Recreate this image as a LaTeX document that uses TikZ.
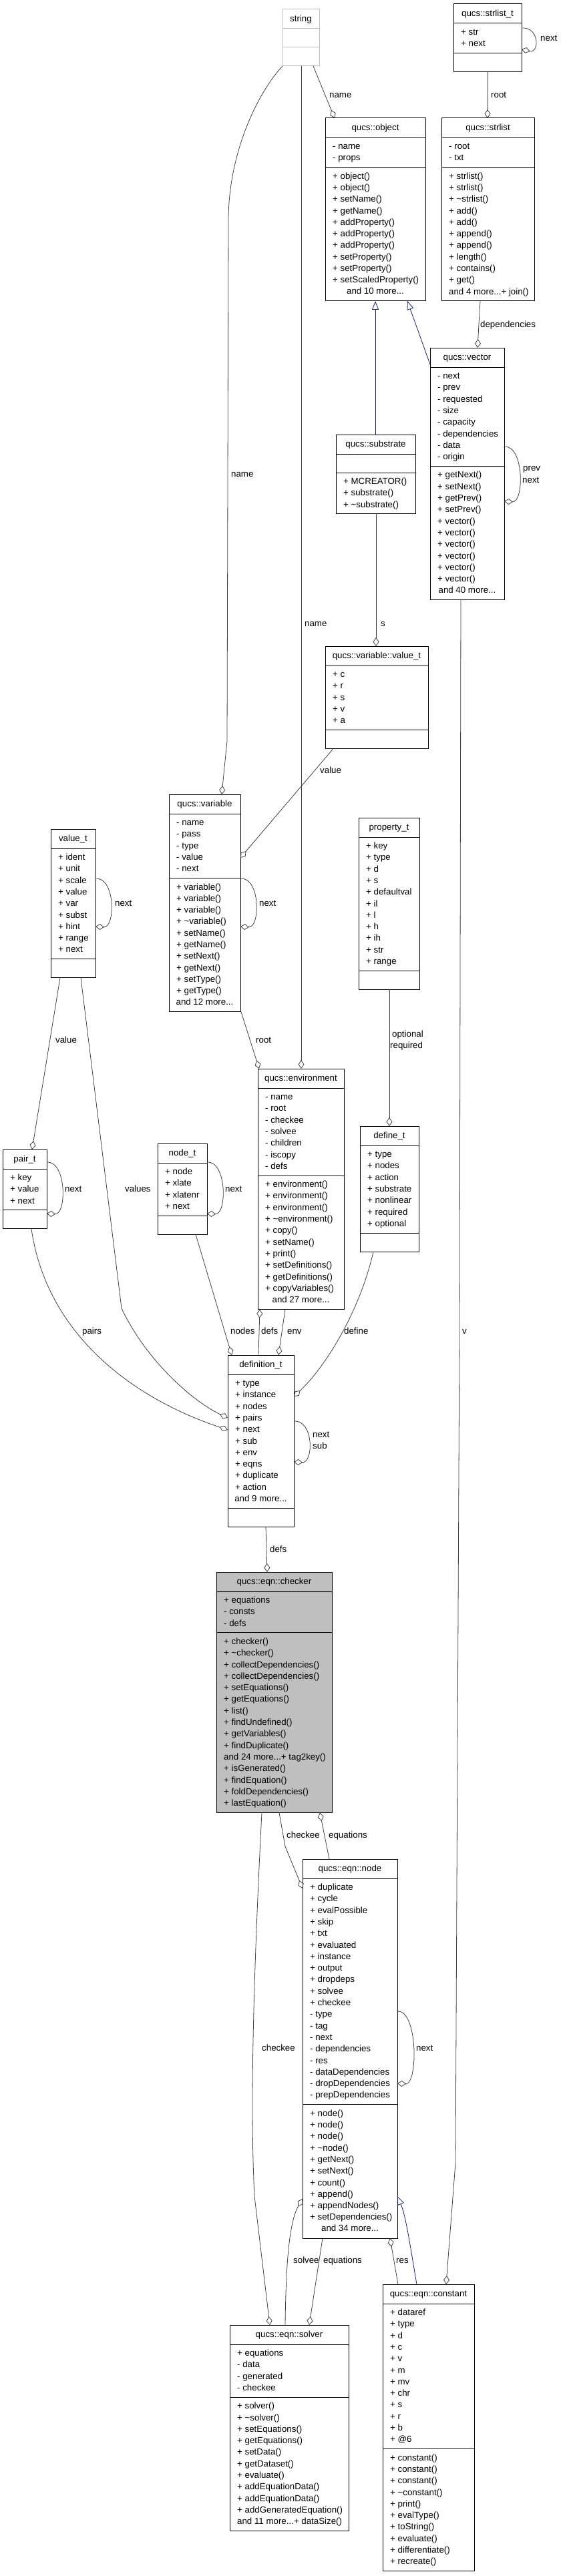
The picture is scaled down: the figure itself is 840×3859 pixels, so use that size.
\documentclass[tikz,border=0pt]{standalone}
\usepackage{fontspec}
\setmainfont{Liberation Sans}
\usetikzlibrary{arrows.meta}
\definecolor{edgec}{HTML}{404040}
\definecolor{inhc}{HTML}{191970}
\definecolor{fillc}{HTML}{BFBFBF}
\definecolor{strc}{HTML}{BFBFBF}
\newcommand\fsz{\fontsize{13.3}{17.3}\selectfont}
\newcommand\fr{\rule{0pt}{11pt}}
\newcommand\tld{\textasciitilde}
\tikzset{
 cbox/.style={draw=black, line width=1pt, inner sep=0pt, outer sep=0pt, fill=white},
 csep/.style={draw=black, line width=1pt},
 ctitle/.style={inner sep=0pt, anchor=base, font=\fsz},
 ctxt/.style={inner sep=0pt, anchor=north west, align=left, font=\fsz},
 cmore/.style={inner sep=0pt, anchor=base, font=\fsz},
 lbl/.style={inner sep=0pt, anchor=base west, font=\fsz},
 agg/.style={draw=edgec, line width=0.8pt, -{Diamond[open,length=13pt,width=9pt]}},
 inh/.style={draw=inhc, line width=0.8pt, -{Triangle[open,length=13pt,width=10pt]}},
}
\newcommand\ucls[8][]{%
  \pgfmathsetmacro\uyh{#5+29}%
  \ifnum#7=0 \def\uha{28}\else\pgfmathsetmacro\uha{17.3*#7+10}\fi
  \ifnum#8=0 \def\uhm{28}\else\pgfmathsetmacro\uhm{17.3*#8+10}\fi
  \pgfmathsetmacro\uya{\uyh+\uha}%
  \pgfmathsetmacro\uyb{\uya+\uhm}%
  \node[cbox,#1,anchor=north west,minimum width={#4-#3},minimum height={\uyb-#5}] (#2) at (#3,#5) {};
  \draw[csep,#1,fill=none] (#3,\uyh) -- (#4,\uyh) (#3,\uya) -- (#4,\uya);
  \node[ctitle] (#2-t) at ({(#3+#4)/2},{#5+18.5}) {#6};
  \coordinate (#2-a) at ({#3+11},{\uyh+6.3});
  \coordinate (#2-m) at ({#3+11},{\uya+6.3});
  \coordinate (#2-b) at ({(#3+#4)/2},{\uyb-10.3});
  \coordinate (#2-c) at ({(#3+#4)/2},{\uya-10.3});
}
\begin{document}
\begin{tikzpicture}[x=1pt,y=-1pt]
\fill[white] (0,0) rectangle (840,3859);
\useasboundingbox (0,0) rectangle (840,3859);

% ---------- classes ----------
\ucls[draw=strc]{string}{423}{478}{14}{string}{0}{0}

\ucls{strlistt}{679}{781}{6}{qucs::strlist\_t}{2}{0}
\node[ctxt] (strlistt-at) at (strlistt-a) {\fr+ str\\+ next};

\ucls{object}{487}{637}{177}{qucs::object}{2}{11}
\node[ctxt] (object-at) at (object-a) {\fr- name\\- props};
\node[ctxt] (object-mt) at (object-m) {\fr+ object()\\+ object()\\+ setName()\\+ getName()\\+ addProperty()\\+ addProperty()\\+ addProperty()\\+ setProperty()\\+ setProperty()\\+ setScaledProperty()};
\node[cmore] (object-mo) at (object-b) {and 10 more...};

\ucls{strlist}{661}{800}{177}{qucs::strlist}{2}{11}
\node[ctxt] (strlist-at) at (strlist-a) {\fr- root\\- txt};
\node[ctxt] (strlist-mt) at (strlist-m) {\fr+ strlist()\\+ strlist()\\+ \tld strlist()\\+ add()\\+ add()\\+ append()\\+ append()\\+ length()\\+ contains()\\+ get()\\and 4 more...+ join()};

\ucls{vector}{644}{755}{521}{qucs::vector}{8}{11}
\node[ctxt] (vector-at) at (vector-a) {\fr- next\\- prev\\- requested\\- size\\- capacity\\- dependencies\\- data\\- origin};
\node[ctxt] (vector-mt) at (vector-m) {\fr+ getNext()\\+ setNext()\\+ getPrev()\\+ setPrev()\\+ vector()\\+ vector()\\+ vector()\\+ vector()\\+ vector()\\+ vector()};
\node[cmore] (vector-mo) at (vector-b) {and 40 more...};

\ucls{substrate}{503}{622}{651}{qucs::substrate}{0}{3}
\node[ctxt] (substrate-mt) at (substrate-m) {\fr+ MCREATOR()\\+ substrate()\\+ \tld substrate()};

\ucls{vvalue}{487}{641}{968}{qucs::variable::value\_t}{5}{0}
\node[ctxt] (vvalue-at) at (vvalue-a) {\fr+ c\\+ r\\+ s\\+ v\\+ a};

\ucls{valuet}{76}{143}{1242}{value\_t}{9}{0}
\node[ctxt] (valuet-at) at (valuet-a) {\fr+ ident\\+ unit\\+ scale\\+ value\\+ var\\+ subst\\+ hint\\+ range\\+ next};

\ucls{variable}{253}{360}{1190}{qucs::variable}{5}{11}
\node[ctxt] (variable-at) at (variable-a) {\fr- name\\- pass\\- type\\- value\\- next};
\node[ctxt] (variable-mt) at (variable-m) {\fr+ variable()\\+ variable()\\+ variable()\\+ \tld variable()\\+ setName()\\+ getName()\\+ setNext()\\+ getNext()\\+ setType()\\+ getType()};
\node[cmore] (variable-mo) at (variable-b) {and 12 more...};

\ucls{property}{537}{628}{1225}{property\_t}{11}{0}
\node[ctxt] (property-at) at (property-a) {\fr+ key\\+ type\\+ d\\+ s\\+ defaultval\\+ il\\+ l\\+ h\\+ ih\\+ str\\+ range};

\ucls{environment}{386}{515}{1601}{qucs::environment}{7}{11}
\node[ctxt] (environment-at) at (environment-a) {\fr- name\\- root\\- checkee\\- solvee\\- children\\- iscopy\\- defs};
\node[ctxt] (environment-mt) at (environment-m) {\fr+ environment()\\+ environment()\\+ environment()\\+ \tld environment()\\+ copy()\\+ setName()\\+ print()\\+ setDefinitions()\\+ getDefinitions()\\+ copyVariables()};
\node[cmore] (environment-mo) at (environment-b) {and 27 more...};

\ucls{pair}{4}{70}{1722}{pair\_t}{3}{0}
\node[ctxt] (pair-at) at (pair-a) {\fr+ key\\+ value\\+ next};

\ucls{nodet}{236}{310}{1713}{node\_t}{4}{0}
\node[ctxt] (nodet-at) at (nodet-a) {\fr+ node\\+ xlate\\+ xlatenr\\+ next};

\ucls{define}{539}{627}{1687}{define\_t}{7}{0}
\node[ctxt] (define-at) at (define-a) {\fr+ type\\+ nodes\\+ action\\+ substrate\\+ nonlinear\\+ required\\+ optional};

\ucls{definition}{341}{440}{2030}{definition\_t}{11}{0}
\node[ctxt] (definition-at) at (definition-a) {\fr+ type\\+ instance\\+ nodes\\+ pairs\\+ next\\+ sub\\+ env\\+ eqns\\+ duplicate\\+ action};
\node[cmore] (definition-ao) at (definition-c) {and 9 more...};

\ucls[fill=fillc]{checker}{324}{497}{2355}{qucs::eqn::checker}{3}{15}
\node[ctxt] (checker-at) at (checker-a) {\fr+ equations\\- consts\\- defs};
\node[ctxt] (checker-mt) at (checker-m) {\fr+ checker()\\+ \tld checker()\\+ collectDependencies()\\+ collectDependencies()\\+ setEquations()\\+ getEquations()\\+ list()\\+ findUndefined()\\+ getVariables()\\+ findDuplicate()\\and 24 more...+ tag2key()\\+ isGenerated()\\+ findEquation()\\+ foldDependencies()\\+ lastEquation()};

\ucls{eqnnode}{453}{595}{2785}{qucs::eqn::node}{19}{11}
\node[ctxt] (eqnnode-at) at (eqnnode-a) {\fr+ duplicate\\+ cycle\\+ evalPossible\\+ skip\\+ txt\\+ evaluated\\+ instance\\+ output\\+ dropdeps\\+ solvee\\+ checkee\\- type\\- tag\\- next\\- dependencies\\- res\\- dataDependencies\\- dropDependencies\\- prepDependencies};
\node[ctxt] (eqnnode-mt) at (eqnnode-m) {\fr+ node()\\+ node()\\+ node()\\+ \tld node()\\+ getNext()\\+ setNext()\\+ count()\\+ append()\\+ appendNodes()\\+ setDependencies()};
\node[cmore] (eqnnode-mo) at (eqnnode-b) {and 34 more...};

\ucls{solver}{344}{522}{3483}{qucs::eqn::solver}{4}{11}
\node[ctxt] (solver-at) at (solver-a) {\fr+ equations\\- data\\- generated\\- checkee};
\node[ctxt] (solver-mt) at (solver-m) {\fr+ solver()\\+ \tld solver()\\+ setEquations()\\+ getEquations()\\+ setData()\\+ getDataset()\\+ evaluate()\\+ addEquationData()\\+ addEquationData()\\+ addGeneratedEquation()\\and 11 more...+ dataSize()};

\ucls{constant}{573}{710}{3422}{qucs::eqn::constant}{12}{10}
\node[ctxt] (constant-at) at (constant-a) {\fr+ dataref\\+ type\\+ d\\+ c\\+ v\\+ m\\+ mv\\+ chr\\+ s\\+ r\\+ b\\+ @6};
\node[ctxt] (constant-mt) at (constant-m) {\fr+ constant()\\+ constant()\\+ constant()\\+ \tld constant()\\+ print()\\+ evalType()\\+ toString()\\+ evaluate()\\+ differentiate()\\+ recreate()};

% ---------- connectors ----------
\draw[agg] (469,0 |- string.south) -- (501,0 |- object.north);
\node[lbl] (l1) at (493,146.5) {name};
\draw[agg] (730,0 |- strlistt.south) -- (730,0 |- strlist.north);
\node[lbl] (l2) at (735,146.5) {root};
\draw[agg] (strlistt.east |- 0,42) .. controls (808,40) and (808,80) .. (strlistt.east |- 0,74);
\node[lbl] (l3) at (809,61.5) {next};
\draw[agg] (719,0 |- strlist.south) -- (715,0 |- vector.north);
\node[lbl] (l4) at (719,490.5) {dependencies};
\draw[inh] (562,0 |- substrate.north) -- (562,0 |- object.south);
\draw[inh] (vector.west |- 0,546) -- (610,0 |- object.south);
\draw[agg] (563,0 |- substrate.south) -- (563,0 |- vvalue.north);
\node[lbl] (l5) at (570,938.5) {s};
\draw[agg] (451,0 |- string.south) -- (451,0 |- environment.north);
\node[lbl] (l6) at (456,938.5) {name};
\draw[agg] (string.south west) .. controls (385,140) and (342,230) .. (342,330) -- (340,1110) -- (332,0 |- variable.north);
\node[lbl] (l7) at (346,714.5) {name};
\draw[agg] (690,0 |- vector.south) -- (688,2000) -- (682,3240) -- (668,0 |- constant.north);
\node[lbl] (l8) at (692,1998.5) {v};
\draw[agg] (vector.east |- 0,669) .. controls (785,667) and (785,753) .. (vector.east |- 0,751);
\node[lbl] (l9) at (783,705.5) {prev};
\node[lbl] (l10) at (782,723.5) {next};
\draw[agg] (499,0 |- vvalue.south) -- (variable.east |- 0,1285);
\node[lbl] (l11) at (479,1158.5) {value};
\draw[agg] (variable.east |- 0,1316) .. controls (390,1314) and (390,1390) .. (variable.east |- 0,1388);
\node[lbl] (l12) at (388,1357.5) {next};
\draw[agg] (valuet.east |- 0,1316) .. controls (173,1314) and (173,1390) .. (valuet.east |- 0,1388);
\node[lbl] (l13) at (172,1357.5) {next};
\draw[agg] (361,0 |- variable.south) -- (388,0 |- environment.north);
\node[lbl] (l14) at (383,1562.5) {root};
\draw[agg] (90,0 |- valuet.south) -- (48,0 |- pair.north);
\node[lbl] (l15) at (83,1562.5) {value};
\draw[agg] (121,0 |- valuet.south) -- (182,1960) .. controls (220,2040) and (290,2100) .. (definition.west |- 0,2124);
\node[lbl] (l16) at (187,1785.5) {values};
\draw[agg] (47,0 |- pair.south) .. controls (70,2000) and (200,2095) .. (definition.west |- 0,2142);
\node[lbl] (l17) at (123,1998.5) {pairs};
\draw[agg] (pair.east |- 0,1741) .. controls (100,1739) and (100,1820) .. (pair.east |- 0,1818);
\node[lbl] (l18) at (97,1785.5) {next};
\draw[agg] (nodet.east |- 0,1741) .. controls (340,1739) and (340,1820) .. (nodet.east |- 0,1818);
\node[lbl] (l19) at (337,1785.5) {next};
\draw[agg] (293,0 |- nodet.south) -- (347,0 |- definition.north);
\node[lbl] (l20) at (345,1998.5) {nodes};
\draw[agg] (387,0 |- definition.north) -- (389,0 |- environment.south);
\node[lbl] (l21) at (391,1998.5) {defs};
\draw[agg] (427,0 |- environment.south) -- (417,0 |- definition.north);
\node[lbl] (l22) at (430,1998.5) {env};
\draw[agg] (583,0 |- property.south) -- (583,0 |- define.north);
\node[lbl] (l23) at (587,1553.5) {optional};
\node[lbl] (l24) at (584,1570.5) {required};
\draw[agg] (559,0 |- define.south) .. controls (540,1960) and (490,2045) .. (definition.east |- 0,2092);
\node[lbl] (l25) at (515,1998.5) {define};
\draw[agg] (definition.east |- 0,2129) .. controls (470,2127) and (470,2192) .. (definition.east |- 0,2190);
\node[lbl] (l26) at (468,2153.5) {next};
\node[lbl] (l27) at (468,2170.5) {sub};
\draw[agg] (398,0 |- definition.south) -- (400,0 |- checker.north);
\node[lbl] (l28) at (404,2325.5) {defs};
\draw[agg] (392,0 |- checker.south) .. controls (380,2950) and (374,3150) .. (381,3290) -- (404,0 |- solver.north);
\node[lbl] (l29) at (392,3072.5) {checkee};
\draw[agg] (418,0 |- checker.south) -- (427,2766) -- (eqnnode.west |- 0,2829);
\node[lbl] (l30) at (429,2753.5) {checkee};
\draw[agg] (493,0 |- eqnnode.north) -- (479,0 |- checker.south);
\node[lbl] (l31) at (492,2753.5) {equations};
\draw[agg] (eqnnode.east |- 0,3013) .. controls (626,3011) and (626,3123) .. (eqnnode.east |- 0,3121);
\node[lbl] (l32) at (623,3072.5) {next};
\draw[agg] (483,0 |- eqnnode.south) -- (463,0 |- solver.north);
\node[lbl] (l33) at (484,3390.5) {equations};
\draw[agg] (427,0 |- solver.north) .. controls (428,3400) and (432,3330) .. (eqnnode.west |- 0,3294);
\node[lbl] (l34) at (439,3390.5) {solvee};
\draw[agg] (596,0 |- constant.north) -- (584,0 |- eqnnode.south);
\node[lbl] (l35) at (593,3390.5) {res};
\draw[inh] (624,0 |- constant.north) .. controls (615,3370) and (608,3320) .. (eqnnode.east |- 0,3290);
\end{tikzpicture}
\end{document}
